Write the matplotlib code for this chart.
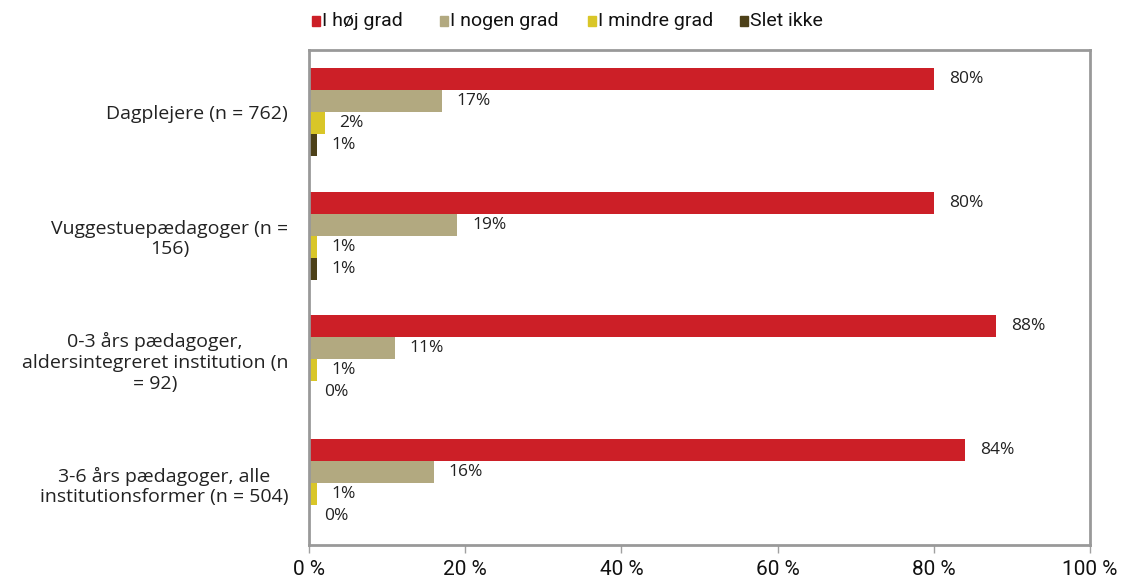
import matplotlib.pyplot as plt
import numpy as np
from matplotlib.patches import Rectangle

categories = [
    'Dagplejere (n = 762)',
    'Vuggestuepædagoger (n =\n156)',
    '0-3 års pædagoger,\naldersintegreret institution (n\n= 92)',
    '3-6 års pædagoger, alle\ninstitutionsformer (n = 504)',
]
series = ['I høj grad', 'I nogen grad', 'I mindre grad', 'Slet ikke']
hoej = [80, 80, 88, 84]
nogen = [17, 19, 11, 16]
mindre = [2, 1, 1, 1]
slet = [1, 1, 0, 0]
values = [hoej, nogen, mindre, slet]
colors = ['#CC1F27', '#B2A980', '#D9C628', '#4D4119']
ticks = [0, 20, 40, 60, 80, 100]
tick_labels = ['0 %', '20 %', '40 %', '60 %', '80 %', '100 %']

main_font = ['Open Sans', 'DejaVu Sans']
narrow_font = ['Roboto', 'DejaVu Sans']

fig = plt.figure(figsize=(11.25, 5.82), dpi=100)
ax = fig.add_axes([309 / 1125, 1 - 545 / 582, 781 / 1125, 495 / 582])

y = np.arange(len(categories))
h = 0.178
for i, (vals, col) in enumerate(zip(values, colors)):
    pos = y - 1.5 * h + i * h
    ax.barh(pos, vals, height=h, color=col)
    for p, v in zip(pos, vals):
        ax.text(v + 1.9, p, f'{v}%', va='center', ha='left', fontsize=12.5,
                color='#222222', family=main_font)

ax.set_xlim(0, 100)
ax.set_ylim(3.5, -0.5)
ax.set_xticks(ticks)
ax.set_xticklabels(tick_labels, fontsize=15, family=narrow_font, color='#111111')
ax.tick_params(axis='x', direction='out', length=6, color='#A0A0A0', width=1, pad=5)
ax.set_yticks(y)
ax.set_yticklabels(categories, fontsize=14, family=main_font, color='#222222',
                   multialignment='center')
ax.tick_params(axis='y', length=0, pad=15)
for s in ax.spines.values():
    s.set_color('#999999')
    s.set_linewidth(2)

# legend along the top
leg_x = [312, 440, 588, 740]
for name, col, lx in zip(series, colors, leg_x):
    fig.patches.append(Rectangle((lx / 1125, 1 - 26 / 582), 8 / 1125, 10 / 582,
                                 color=col, transform=fig.transFigure))
    fig.text((lx + 10) / 1125, 1 - 21 / 582, name, fontsize=14, family=narrow_font,
             va='center', ha='left', color='#111111')

fig.savefig('out.png', dpi=100)
